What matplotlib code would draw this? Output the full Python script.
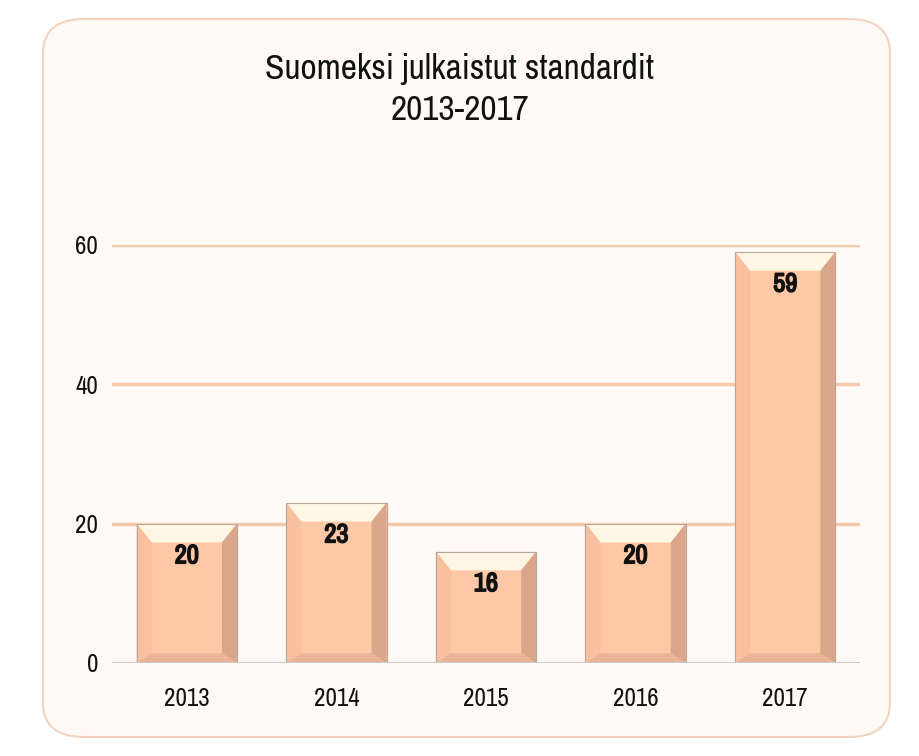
import matplotlib
matplotlib.use("Agg")
import matplotlib.pyplot as plt
import matplotlib.patches as patches
import matplotlib.patheffects as pe
from matplotlib.font_manager import fontManager

years = ["2013", "2014", "2015", "2016", "2017"]
counts = [20, 23, 16, 20, 59]
yticks = [0, 20, 40, 60]

# pick a narrow face if one is installed
names = [f.name for f in fontManager.ttflist]
if "Liberation Sans Narrow" in names:
    FONT = ["Liberation Sans Narrow", "DejaVu Sans"]
else:
    narrow = [n for n in names if "Narrow" in n or "Condensed" in n]
    FONT = narrow[:1] + ["DejaVu Sans"]
plt.rcParams["font.family"] = FONT

fig = plt.figure(figsize=(9.2, 7.56), dpi=100)
fig.patch.set_facecolor("white")

# rounded panel behind everything
panel = patches.FancyBboxPatch((43 / 920, 19 / 756), 847 / 920, 718 / 756,
                               boxstyle="round,pad=0,rounding_size=0.045",
                               transform=fig.transFigure, facecolor="#fffaf6",
                               edgecolor="#f3d3bd", linewidth=1.5, zorder=-5)
fig.patches.append(panel)

ax = fig.add_axes([112 / 920, (756 - 663) / 756, 748 / 920, 418 / 756])
ax.set_facecolor("none")
ax.set_zorder(2)

x = range(len(years))
bars = ax.bar(x, counts, width=0.67, color="#fcc8a5", edgecolor="#b9a79c",
              linewidth=0.8, zorder=3)

ax.set_xlim(-0.5, len(years) - 0.5)
ax.set_ylim(0, 60)
ax.set_yticks(yticks)
ax.set_xticks(list(x))
ax.set_xticklabels(years)
for y in yticks[1:]:
    ax.axhline(y, color="#f6c9ab", linewidth=2.5, zorder=1)
ax.axhline(0, color="#c9c9c9", linewidth=1.5, zorder=4)

for s in ax.spines.values():
    s.set_visible(False)
ax.tick_params(length=0, labelsize=18, colors="#111111")
ax.tick_params(axis="x", pad=17)
ax.tick_params(axis="y", pad=10)

# bevel faces on each bar
bx = 0.10
by = 2.7
bb = 1.4
bold = [pe.withStroke(linewidth=1.2, foreground="#111111")]
for b in bars:
    x0, w, h = b.get_x(), b.get_width(), b.get_height()
    x1 = x0 + w
    top = patches.Polygon([(x0, h), (x1, h), (x1 - bx, h - by), (x0 + bx, h - by)],
                          closed=True, facecolor="#fff6e4", edgecolor="none", zorder=3.5)
    right = patches.Polygon([(x1, h), (x1, 0), (x1 - bx, bb), (x1 - bx, h - by)],
                            closed=True, facecolor="#dba78c", edgecolor="none", zorder=3.5)
    left = patches.Polygon([(x0, h), (x0 + bx, h - by), (x0 + bx, bb), (x0, 0)],
                           closed=True, facecolor="#f8c09f", edgecolor="none", zorder=3.5)
    bottom = patches.Polygon([(x0, 0), (x1, 0), (x1 - bx, bb), (x0 + bx, bb)],
                             closed=True, facecolor="#e9b497", edgecolor="none", zorder=3.5)
    for p in (top, right, left, bottom):
        ax.add_patch(p)
    ax.add_patch(patches.Rectangle((x0, 0), w, h, facecolor="none",
                                   edgecolor="#b9a79c", linewidth=0.8, zorder=3.6))
    ax.text(x0 + w / 2, h - 4.6, str(int(round(h))),
            ha="center", va="center", fontsize=19, fontweight="bold",
            color="#111111", zorder=5, path_effects=bold)

fig.text(0.5, 1 - 69 / 756, "Suomeksi julkaistut standardit", ha="center", va="center",
         fontsize=25.5, color="#111111")
fig.text(0.5, 1 - 110 / 756, "2013-2017", ha="center", va="center",
         fontsize=25.5, color="#111111")

fig.savefig("out.png", dpi=100, facecolor="white")
